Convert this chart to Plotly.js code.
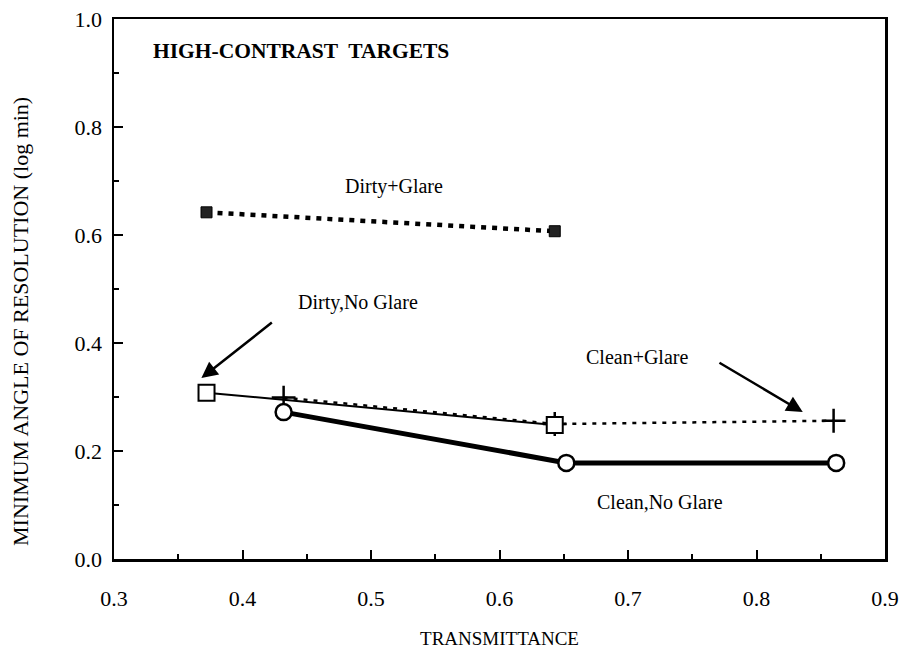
<!DOCTYPE html>
<html>
<head>
<meta charset="utf-8">
<script src="https://cdn.plot.ly/plotly-3.0.1.min.js"></script>
<style>html,body{margin:0;padding:0;background:#fff;}#chart{width:905px;height:656px;}</style>
</head>
<body>
<div id="chart"></div>
<script>
// Data
const dirtyGlareX = [0.372, 0.643];
const dirtyGlareY = [0.642, 0.607];
const dirtyNoGlareX = [0.372, 0.643];
const dirtyNoGlareY = [0.308, 0.248];
const cleanGlareX = [0.432, 0.643, 0.860];
const cleanGlareY = [0.299, 0.250, 0.256];
const cleanNoGlareX = [0.432, 0.652, 0.862];
const cleanNoGlareY = [0.272, 0.178, 0.178];
const xTicks = [0.3, 0.4, 0.5, 0.6, 0.7, 0.8, 0.9];
const xTickText = ["0.3", "0.4", "0.5", "0.6", "0.7", "0.8", "0.9"];
const yTicks = [0.0, 0.2, 0.4, 0.6, 0.8, 1.0];
const yTickText = ["0.0", "0.2", "0.4", "0.6", "0.8", "1.0"];

const serif = "'Liberation Serif', 'Times New Roman', Times, serif";

const traces = [
  {
    x: cleanGlareX, y: cleanGlareY, mode: "lines+markers", name: "Clean+Glare",
    line: {color: "#000", width: 2.5, dash: "4px,6px"},
    marker: {symbol: "cross-thin", size: 17, line: {color: "#000", width: 2.5}}
  },
  {
    x: dirtyNoGlareX, y: dirtyNoGlareY, mode: "lines+markers", name: "Dirty,No Glare",
    line: {color: "#000", width: 2},
    marker: {symbol: "square", size: 16, color: "#fff", line: {color: "#000", width: 2}}
  },
  {
    x: cleanNoGlareX, y: cleanNoGlareY, mode: "lines+markers", name: "Clean,No Glare",
    line: {color: "#000", width: 5},
    marker: {symbol: "circle", size: 16, color: "#fff", line: {color: "#000", width: 2.5}}
  },
  {
    x: dirtyGlareX, y: dirtyGlareY, mode: "lines+markers", name: "Dirty+Glare",
    line: {color: "#000", width: 4.5, dash: "5px,6px"},
    marker: {symbol: "square", size: 11, color: "#222", line: {color: "#000", width: 1}}
  }
];

const layout = {
  width: 905, height: 656,
  margin: {l: 114, r: 20, t: 19, b: 97},
  paper_bgcolor: "#fff", plot_bgcolor: "#fff",
  showlegend: false,
  font: {family: serif, color: "#000", size: 18},
  xaxis: {
    range: [0.3, 0.9], tickvals: xTicks, ticktext: xTickText,
    showgrid: false, zeroline: false,
    showline: true, linecolor: "#000", linewidth: 2.5, mirror: true,
    ticks: "inside", ticklen: 9, tickwidth: 2, tickcolor: "#000",
    minor: {dtick: 0.05, tick0: 0.3, ticks: "inside", ticklen: 5, tickwidth: 2, tickcolor: "#000"},
    tickfont: {family: serif, size: 22},
    ticklabelstandoff: 18,
    title: {text: "TRANSMITTANCE", font: {family: serif, size: 19}, standoff: 22}
  },
  yaxis: {
    range: [0, 1.0], tickvals: yTicks, ticktext: yTickText,
    showgrid: false, zeroline: false,
    showline: true, linecolor: "#000", linewidth: 2.5, mirror: true,
    ticks: "inside", ticklen: 9, tickwidth: 2, tickcolor: "#000",
    minor: {dtick: 0.1, tick0: 0, ticks: "inside", ticklen: 5, tickwidth: 2, tickcolor: "#000"},
    tickfont: {family: serif, size: 22},
    ticklabelstandoff: 5
  },
  annotations: [
    {x: -0.14, y: 0.44, xref: "paper", yref: "y", text: "MINIMUM ANGLE OF RESOLUTION (log min)",
     showarrow: false, textangle: -90, font: {family: serif, size: 22}},
    {x: 0.329, y: 0.94, xref: "x", yref: "y", text: "<b>HIGH-CONTRAST  TARGETS</b>", showarrow: false,
     xanchor: "left", font: {family: serif, size: 21.5}},
    {x: 0.518, y: 0.69, xref: "x", yref: "y", text: "Dirty+Glare", showarrow: false,
     font: {family: serif, size: 20}},
    {x: 0.49, y: 0.475, xref: "x", yref: "y", text: "Dirty,No Glare", showarrow: false,
     font: {family: serif, size: 20}},
    {x: 0.368, y: 0.335, xref: "x", yref: "y", text: "", showarrow: true,
     arrowhead: 2, arrowsize: 1.3, arrowwidth: 2.5, arrowcolor: "#000",
     ax: 0.424, ay: 0.44, axref: "x", ayref: "y", standoff: 0, startstandoff: 0},
    {x: 0.707, y: 0.375, xref: "x", yref: "y", text: "Clean+Glare", showarrow: false,
     font: {family: serif, size: 20}},
    {x: 0.836, y: 0.272, xref: "x", yref: "y", text: "", showarrow: true,
     arrowhead: 2, arrowsize: 1.3, arrowwidth: 2.5, arrowcolor: "#000",
     ax: 0.77, ay: 0.365, axref: "x", ayref: "y", standoff: 0, startstandoff: 0},
    {x: 0.725, y: 0.105, xref: "x", yref: "y", text: "Clean,No Glare", showarrow: false,
     font: {family: serif, size: 20}}
  ]
};

Plotly.newPlot("chart", traces, layout, {displayModeBar: false, staticPlot: true});
</script>
</body>
</html>
